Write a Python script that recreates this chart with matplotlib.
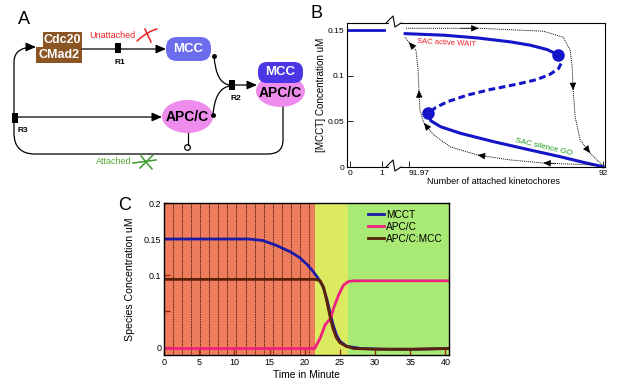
import matplotlib
matplotlib.use('Agg')
import matplotlib.pyplot as plt
from matplotlib.patches import Rectangle, Ellipse, FancyBboxPatch, FancyArrowPatch, Circle
from matplotlib.path import Path
from matplotlib.lines import Line2D

# ---- panel B : steady states of MCCT vs attached kinetochores
start_x = [-0.09, 1.06]
start_y = [0.15, 0.15]
upper_x = [91.96918, 91.97544, 91.98056, 91.98569, 91.98877, 91.99134, 91.99297]
upper_y = [0.1464, 0.1446, 0.1416, 0.1373, 0.1336, 0.1289, 0.1234]
middle_x = [91.99297, 91.99364, 91.99312, 91.99185, 91.9898, 91.98672, 91.98262,
            91.97903, 91.97595, 91.97415, 91.97297]
middle_y = [0.1234, 0.1153, 0.1081, 0.1019, 0.0960, 0.0909, 0.0851, 0.0789, 0.0716, 0.0654, 0.0588]
lower_x = [91.97297, 91.97338, 91.97492, 91.978, 91.98313, 91.98826, 91.99338, 91.99697, 92.0]
lower_y = [0.0588, 0.0507, 0.0441, 0.0369, 0.0277, 0.0194, 0.0113, 0.0051, 0.0003]
fold_x = [91.99297, 91.97297]
fold_y = [0.1234, 0.0588]
# dotted hysteresis paths
go_x = [91.96954, 91.98077, 91.99077, 91.99385, 91.99492, 91.99523, 91.99538, 91.99569,
        91.99646, 91.99800, 92.0]
go_y = [0.1522, 0.1522, 0.1490, 0.1424, 0.1281, 0.1095, 0.0843, 0.0548, 0.0296, 0.0153, 0.0011]
go_arrows = [1, 6, 9]
back_x = [91.99846, 91.99077, 91.98569, 91.98062, 91.97646, 91.97385, 91.97231, 91.97169,
          91.97154, 91.97138, 91.97108, 91.97, 91.96938]
back_y = [0.0022, 0.0044, 0.0077, 0.0131, 0.0219, 0.0350, 0.0482, 0.0624, 0.0843, 0.1095,
          0.1281, 0.1369, 0.1424]
back_arrows = [1, 3, 6, 8, 11]

# ---- panel C : time course
t_mcct = [0, 5, 10, 12, 14, 16, 18, 19.3, 20.3, 21.2, 22.0, 22.6, 23.1, 23.6, 24.0, 24.5,
          25.0, 26.0, 28, 32, 36, 40.5]
mcct = [0.150, 0.150, 0.150, 0.150, 0.148, 0.141, 0.132, 0.124, 0.115, 0.105, 0.094, 0.084,
        0.068, 0.048, 0.032, 0.017, 0.008, 0.001, -0.002, -0.003, -0.003, -0.002]
t_apc = [0, 10, 21.4, 22.2, 22.9, 23.7, 24.1, 24.8, 25.5, 26.2, 27, 32, 40.5]
apc = [-0.002, -0.002, -0.002, 0.0125, 0.031, 0.040, 0.054, 0.072, 0.086, 0.091, 0.092, 0.092, 0.092]
t_cplx = [0, 10, 21.5, 22.2, 22.7, 23.1, 23.6, 24.0, 24.5, 25.0, 25.9, 27, 30, 35, 40.5]
cplx = [0.094, 0.094, 0.094, 0.092, 0.082, 0.065, 0.042, 0.026, 0.013, 0.006, 0.001, -0.002,
        -0.003, -0.003, -0.002]
attach_times = [1.32, 2.6, 3.84, 5.1, 6.4, 7.7, 9.0, 10.3, 11.6, 12.9, 14.2, 15.5, 16.8, 18.1,
                19.3, 20.6]
stage_edges = [0, 21.5, 26.1, 40.5]
stage_colors = ['#EE7D5D', '#DCEA62', '#A8EA73']

W, H = 625.0, 387.0


def rect(x0, y0, x1, y1):
    return [x0 / W, 1 - y1 / H, (x1 - x0) / W, (y1 - y0) / H]


plt.rcParams['font.family'] = ['Liberation Sans', 'DejaVu Sans']

fig = plt.figure(figsize=(6.25, 3.87), dpi=100)

# ================= panel B =================
blue = '#1414C8'
axL = fig.add_axes(rect(347, 23, 388, 167))
axR = fig.add_axes(rect(401, 23, 605, 167))
for ax in (axL, axR):
    ax.set_ylim(0, 0.158)
    ax.tick_params(direction='in', length=4, width=0.6, labelsize=6, pad=2)
    for s in ax.spines.values():
        s.set_linewidth(0.8)
axL.set_xlim(-0.09, 1.19)
axR.set_xlim(91.96877, 92.0003)
axL.spines['right'].set_visible(False)
axR.spines['left'].set_visible(False)
axL.set_xticks([0, 1])
axL.set_xticklabels(['0', '1'])
axL.set_yticks([0, 0.05, 0.1, 0.15])
axL.set_yticklabels(['0', '0.05', '0.1', '0.15'])
axR.set_xticks([91.97, 92])
axR.set_xticklabels(['91.97', '92'])
axR.get_xticklabels()[0].set_horizontalalignment('left')
axR.set_yticks([])
axL.set_ylabel('[MCCT] Concentration uM', fontsize=7.1, labelpad=1)

axL.plot(start_x, start_y, color=blue, lw=2)
axR.plot(upper_x, upper_y, color=blue, lw=2.2, solid_capstyle='butt')
axR.plot(middle_x, middle_y, color=blue, lw=2.2, ls=(0, (2.2, 1.2)))
axR.plot(lower_x, lower_y, color=blue, lw=2.2, clip_on=False)
axR.plot(fold_x, fold_y, 'o', color=blue, ms=8, clip_on=False)
axR.plot(go_x, go_y, color='black', lw=0.7, ls=(0, (1, 1)), clip_on=False)
axR.plot(back_x, back_y, color='black', lw=0.7, ls=(0, (1, 1)), clip_on=False)
for px, py, idx in ((go_x, go_y, go_arrows), (back_x, back_y, back_arrows)):
    for i in idx:
        tx = px[i] - 0.25 * (px[i] - px[i - 1])
        ty = py[i] - 0.25 * (py[i] - py[i - 1])
        axR.annotate('', xy=(px[i], py[i]), xytext=(tx, ty),
                     arrowprops=dict(arrowstyle='-|>,head_length=0.45,head_width=0.2',
                                     color='black', lw=0.5, shrinkA=0, shrinkB=0))
axR.text(91.97585, 0.1355, 'SAC active WAIT', color='#EE1C24', fontsize=5.5,
         rotation=-3, ha='center', va='center')
axR.text(91.9908, 0.0215, 'SAC silence GO', color='#1E9A1E', fontsize=5.8,
         rotation=-13, ha='center', va='center')
fig.text(493 / W, 1 - 181 / H, 'Number of attached kinetochores', fontsize=6.5,
         ha='center', va='center')

# ================= panel C =================
axC = fig.add_axes(rect(164, 203, 449, 355))
for i in range(len(stage_colors)):
    axC.axvspan(stage_edges[i], stage_edges[i + 1], color=stage_colors[i], lw=0)
for t in attach_times:
    axC.axvline(t, color='#4A1A0A', lw=0.6, ls=(0, (2, 1)))
axC.plot(t_mcct, mcct, color='#1A1AA6', lw=2, label='MCCT')
axC.plot(t_apc, apc, color='#EE2080', lw=2, label='APC/C')
axC.plot(t_cplx, cplx, color='#5A2208', lw=2, label='APC/C:MCC')
axC.set_xlim(0, 40.5)
axC.set_ylim(-0.011, 0.2)
axC.set_xticks([0, 5, 10, 15, 20, 25, 30, 35, 40])
axC.set_yticks([0, 0.05, 0.1, 0.15, 0.2])
axC.set_yticklabels(['0', '', '0.1', '0.15', '0.2'])
axC.tick_params(direction='in', length=4.5, width=1, color='#9A2A10', labelsize=6.5, pad=2)
for s in axC.spines.values():
    s.set_linewidth(1)
axC.set_ylabel('Species Concentration uM', fontsize=7.6, labelpad=6)
axC.set_xlabel('Time in Minute', fontsize=7.4, labelpad=2)
leg = axC.legend(loc='upper right', frameon=False, prop={'size': 7.3},
                 handlelength=1.6, handletextpad=0.2, labelspacing=0.2, borderaxespad=0.25)

# ================= panel A (pixel coordinates) =================
ax0 = fig.add_axes([0, 0, 1, 1])
ax0.set_xlim(0, W)
ax0.set_ylim(H, 0)
ax0.axis('off')
ax0.patch.set_alpha(0)

ax0.text(24, 20, 'A', fontsize=13, ha='center', va='center')
ax0.text(316, 13, 'B', fontsize=13, ha='center', va='center')
ax0.text(125, 205, 'C', fontsize=13, ha='center', va='center')

# break marks in panel B axes
for yb in (23, 167):
    ax0.add_line(Line2D([386, 393, 395, 401], [yb, yb - 7, yb + 4, yb], color='black', lw=0.8))

brown = '#8C5524'
ax0.add_patch(Rectangle((43, 32), 39, 16, color=brown, lw=0))
ax0.add_patch(Rectangle((36, 47), 46, 16, color=brown, lw=0))
ax0.text(62.5, 40, 'Cdc20', color='white', weight='bold', fontsize=9,
         ha='center', va='center')
ax0.text(59, 55.5, 'CMad2', color='white', weight='bold', fontsize=9,
         ha='center', va='center')

ax0.add_patch(FancyBboxPatch((166, 37), 45, 24, boxstyle='round,pad=0,rounding_size=11',
                             color='#6C6CEE', lw=0))
ax0.text(188.5, 49.5, 'MCC', color='white', weight='bold', fontsize=9.5,
         ha='center', va='center')

ax0.add_patch(Ellipse((187.5, 116.5), 51, 33, color='#EE8CEE', lw=0))
ax0.text(187.5, 117, 'APC/C', color='black', weight='bold', fontsize=10,
         ha='center', va='center')

ax0.add_patch(Ellipse((280.5, 91), 49, 32, color='#EE8CEE', lw=0))
ax0.add_patch(FancyBboxPatch((258, 62), 45, 21, boxstyle='round,pad=0,rounding_size=9',
                             color='#4A36E2', lw=0))
ax0.text(280.5, 72, 'MCC', color='white', weight='bold', fontsize=9.5,
         ha='center', va='center')
ax0.text(280.5, 93, 'APC/C', color='black', weight='bold', fontsize=10,
         ha='center', va='center')

arrow_kw = dict(arrowstyle='-|>,head_length=6,head_width=2.6', color='black', lw=0.9,
                mutation_scale=1, shrinkA=0, shrinkB=0)
line_kw = dict(arrowstyle='-', color='black', lw=0.9, shrinkA=0, shrinkB=0)

ax0.add_patch(FancyArrowPatch((82, 49), (166, 49), **arrow_kw))
ax0.add_patch(FancyArrowPatch((17, 117), (162, 117), **arrow_kw))
ax0.add_patch(FancyArrowPatch((235, 85), (257, 85), **arrow_kw))
ax0.add_patch(FancyArrowPatch(path=Path([(14, 113), (14, 62), (14, 47), (36, 47)],
                                        [Path.MOVETO, Path.LINETO, Path.CURVE3, Path.CURVE3]),
                              **arrow_kw))
ax0.add_patch(FancyArrowPatch(path=Path([(214, 56), (216, 84), (230, 85)],
                                        [Path.MOVETO, Path.CURVE3, Path.CURVE3]), **line_kw))
ax0.add_patch(FancyArrowPatch(path=Path([(213, 115), (215, 88), (230, 86)],
                                        [Path.MOVETO, Path.CURVE3, Path.CURVE3]), **line_kw))
ax0.add_patch(FancyArrowPatch(path=Path([(283, 107), (283, 140), (283, 154), (268, 154),
                                         (35, 154), (14, 154), (14, 133), (14, 122)],
                                        [Path.MOVETO, Path.LINETO, Path.CURVE3, Path.CURVE3,
                                         Path.LINETO, Path.CURVE3, Path.CURVE3, Path.LINETO]),
                              **line_kw))
ax0.add_line(Line2D([187.5, 187.5], [133, 144.5], color='black', lw=0.9))
ax0.add_patch(Circle((187.5, 147.5), 2.8, facecolor='white', edgecolor='black', lw=0.9))
ax0.plot([214, 213], [56, 115], 'o', color='black', ms=2.5)

for (cx, cy) in ((118, 48), (232, 84.5), (14.5, 117.5)):
    ax0.add_patch(Rectangle((cx - 3, cy - 5), 6, 10, color='black', lw=0))
ax0.text(120, 62, 'R1', weight='bold', fontsize=6, ha='center', va='center')
ax0.text(236, 99, 'R2', weight='bold', fontsize=6, ha='center', va='center')
ax0.text(23, 130, 'R3', weight='bold', fontsize=6, ha='center', va='center')

ax0.text(112, 35, 'Unattached', color='#EE2222', fontsize=6.5, ha='center', va='center')
ax0.add_patch(FancyArrowPatch(path=Path([(137, 41), (148, 31), (157, 29)],
                                        [Path.MOVETO, Path.CURVE3, Path.CURVE3]),
                              arrowstyle='-', color='#EE2222', lw=1.1))
ax0.add_line(Line2D([145, 151], [29, 42], color='#EE2222', lw=1.1))

ax0.text(114, 162, 'Attached', color='#55A833', fontsize=6.5, ha='center', va='center')
ax0.add_line(Line2D([133, 156], [163, 160], color='#3A9A2A', lw=1.1))
ax0.add_line(Line2D([141, 152], [156, 169], color='#3A9A2A', lw=1.1))
ax0.add_line(Line2D([140, 153], [168, 155], color='#3A9A2A', lw=1.1))

fig.savefig('out.png', dpi=100)
